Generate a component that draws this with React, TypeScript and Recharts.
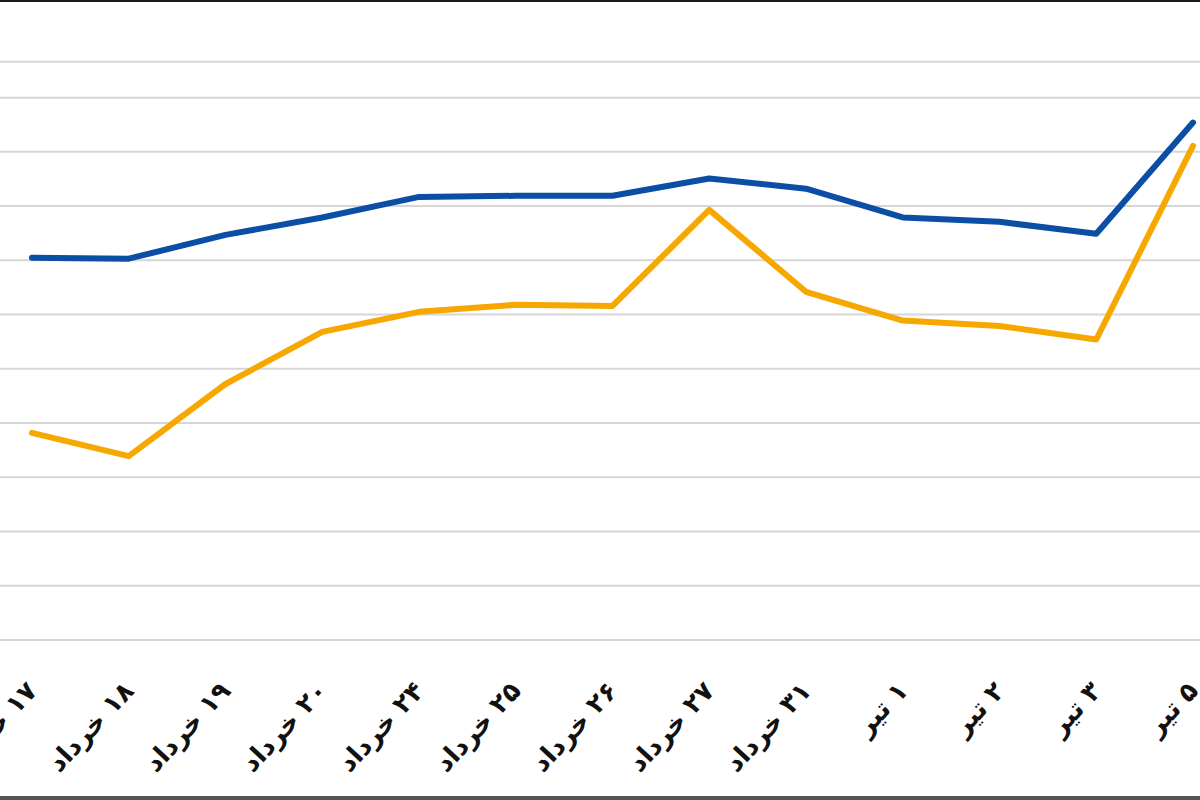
import React from 'react';
import { LineChart, Line, XAxis, YAxis, CartesianGrid } from 'recharts';

const categories = ['۱۷ خرداد', '۱۸ خرداد', '۱۹ خرداد', '۲۰ خرداد', '۲۴ خرداد', '۲۵ خرداد', '۲۶ خرداد', '۲۷ خرداد', '۳۱ خرداد', '۱ تیر', '۲ تیر', '۳ تیر', '۵ تیر'];
const blueValues = [70.5, 70.3, 74.7, 77.9, 81.7, 81.9, 81.9, 85.1, 83.2, 77.9, 77.1, 74.9, 95.4];
const orangeValues = [38.2, 33.9, 47.2, 56.8, 60.5, 61.8, 61.6, 79.3, 64.2, 58.9, 57.9, 55.4, 91.1];
const gridTicks = [0, 10, 20, 30, 40, 50, 60, 70, 80, 90, 100, 106.6];

const data = categories.map((c, i) => ({ name: c, blue: blueValues[i], orange: orangeValues[i] }));

const Tick = (props: any) => {
  const { x, y, payload } = props;
  const tx = x + 1;
  const ty = y + 39;
  return (
    <text
      x={tx}
      y={ty}
      transform={`rotate(-47, ${tx}, ${ty})`}
      textAnchor="end"
      dominantBaseline="middle"
      fontFamily="'DejaVu Sans', sans-serif"
      fontWeight="bold"
      fontSize={26}
      fill="#111"
    >
      {'\u202B' + payload.value + '\u202C'}
    </text>
  );
};

export default function App() {
  return (
    <div style={{ position: 'absolute', left: 0, top: 0, width: 1200, height: 800, background: '#fff', overflow: 'hidden' }}>
      <LineChart width={1200} height={800} data={data} margin={{ top: 0, right: 0, bottom: 0, left: 0 }}>
        <CartesianGrid vertical={false} stroke="#d6d6d6" strokeWidth={2} />
        <XAxis
          dataKey="name"
          axisLine={false}
          tickLine={false}
          interval={0}
          height={160}
          padding={{ left: 32, right: 7 }}
          tick={<Tick />}
        />
        <YAxis hide domain={[0, 118]} ticks={gridTicks} width={0} />
        <Line type="linear" dataKey="orange" stroke="#F7A800" strokeWidth={6} dot={false} isAnimationActive={false} strokeLinecap="round" strokeLinejoin="round" />
        <Line type="linear" dataKey="blue" stroke="#0A4EA5" strokeWidth={6} dot={false} isAnimationActive={false} strokeLinecap="round" strokeLinejoin="round" />
      </LineChart>
      <div style={{ position: 'absolute', left: 0, top: 0, width: 1200, height: 2, background: '#1a1a1a' }} />
      <div style={{ position: 'absolute', left: 0, top: 796, width: 1200, height: 4, background: '#555' }} />
    </div>
  );
}
